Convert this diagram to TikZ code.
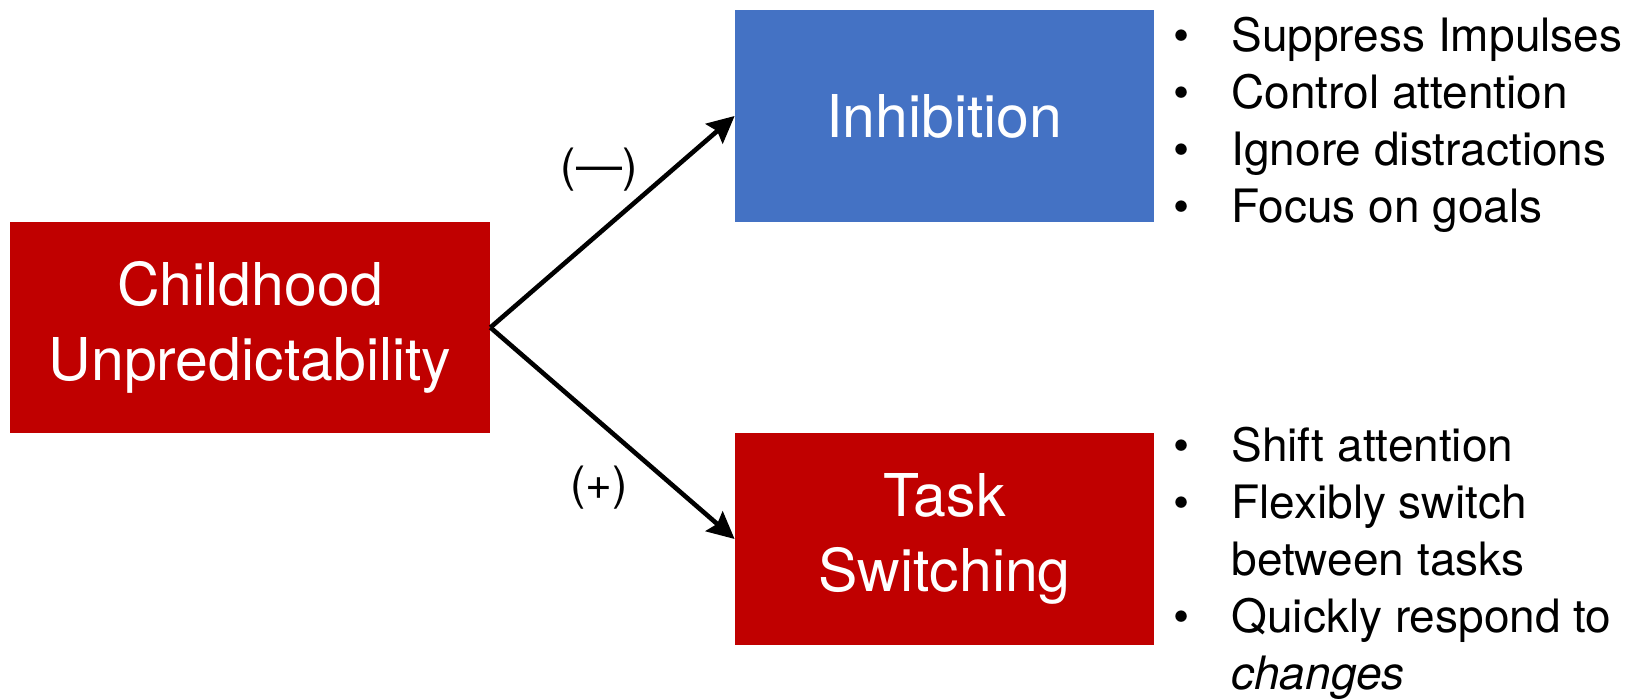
\documentclass[tikz,border=0pt]{standalone}
\usepackage{fontspec}
\setmainfont{TeX Gyre Heros}
\usetikzlibrary{arrows.meta, positioning}
\definecolor{boxred}{HTML}{C00000}
\definecolor{boxblue}{HTML}{4472C4}

\begin{document}
\begin{tikzpicture}[x=0.5pt, y=-0.5pt,
    >={Stealth[length=13.5pt, width=13pt, inset=2pt]},
    every node/.style={inner sep=0pt},
    factor/.style={fill=#1, text=white, align=center,
        minimum width=209.5pt, minimum height=106pt,
        font=\fontsize{29.5}{37.5}\selectfont},
    sign/.style={font=\fontsize{23}{26}\selectfont},
    points/.style={anchor=north west, font=\fontsize{23}{28.5}\selectfont},
    link/.style={->, line width=2.3pt}]

    % Page size of the reference
    \useasboundingbox (0,0) rectangle (1629,699);

    % The three boxes
    \node[factor=boxred, minimum width=240pt, minimum height=105.5pt] (child) at (250,327.5) {Childhood\\Unpredictability};
    \node[factor=boxblue] (inhib) at (944.5,116) {Inhibition};
    \node[factor=boxred] (task) at (944.5,539) {Task\\Switching};

    % Links from the cause to both functions
    \draw[link] (child.east) -- (inhib.west);
    \draw[link] (child.east) -- (task.west);

    % Signs of the effects
    \node[sign] (minus) at (599,170) {(—)};
    \node[sign] (plus) at (599,488) {(+)};

    % What each function does
    \node[points] (inhiblist) at (1173,11) {%
        \begin{tabular}{@{}c@{\hspace{21pt}}l@{}}
            \textbullet & Suppress Impulses\\
            \textbullet & Control attention\\
            \textbullet & Ignore distractions\\
            \textbullet & Focus on goals
        \end{tabular}};
    \node[points] (tasklist) at (1173,421) {%
        \begin{tabular}{@{}c@{\hspace{21pt}}l@{}}
            \textbullet & Shift attention\\
            \textbullet & Flexibly switch\\
                        & between tasks\\
            \textbullet & Quickly respond to\\
                        & \emph{changes}
        \end{tabular}};

\end{tikzpicture}
\end{document}
